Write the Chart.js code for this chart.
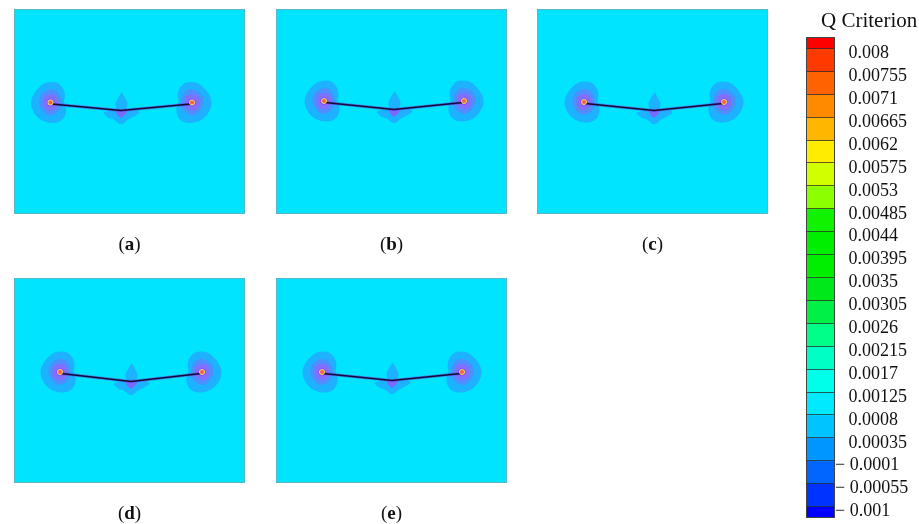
<!DOCTYPE html>
<html>
<head>
<meta charset="utf-8">
<script src="https://cdn.jsdelivr.net/npm/chart.js@4/dist/chart.umd.min.js"></script>
<style>
  body { margin: 0; background: #fff; width: 919px; height: 524px; overflow: hidden; position: relative; }
  canvas { position: absolute; }
</style>
</head>
<body>
<canvas id="p0" width="231" height="250" style="left:14px;top:9px"></canvas>
<canvas id="p1" width="231" height="250" style="left:276px;top:9px"></canvas>
<canvas id="p2" width="231" height="250" style="left:537px;top:9px"></canvas>
<canvas id="p3" width="231" height="250" style="left:14px;top:278px"></canvas>
<canvas id="p4" width="231" height="250" style="left:276px;top:278px"></canvas>
<canvas id="legend" width="114" height="540" style="left:805px;top:0px"></canvas>
<script>
const panelLabels = ['a', 'b', 'c', 'd', 'e'];
const tipLeftX = [36.5, 48, 47, 46, 46];
const tipRightX = [178, 188, 187, 188, 186];
const tipY = [93.5, 92, 93, 94, 94];
const rootX = [107, 118, 117, 117, 116];
const rootY = [101, 100, 101, 103, 102];

// contour outlines, offsets from the tip vortex (left side) or the wing root
const tipOuter = [[1, -20], [7, -19], [12, -14], [14, -7], [13, -1], [15, 6], [14, 13], [10, 18], [2, 20], [-7, 18], [-13, 14], [-17, 8], [-19, 1], [-17, -7], [-11, -15], [-5, -19]];
const tipMid = [[1, -13], [7, -10], [10, -2], [9, 6], [4, 11], [-3, 12], [-9, 6], [-11, -1], [-8, -9]];
const tipInner = [[0, -8], [5, -6], [7, 0], [5, 5], [0, 8], [-5, 6], [-7, 0], [-5, -6]];
const tipCore = [[0, -3.5], [3, -2], [3, 2], [0, 3.5], [-3, 2], [-3, -2]];
const rootUpper = [[0.7, -17], [4, -11], [6, -6], [4, -1], [-3, -1], [-5, -6], [-3, -11]];
const rootLower = [[-17, 3], [-7, 0], [7, 0], [18, 2], [13, 6], [7, 9], [2, 13], [-2, 13], [-7, 9], [-13, 7]];
const rootInner = [[-5, 1], [5, 1], [3, 5], [0, 7], [-3, 5]];

const levels = [0.008, 0.00755, 0.0071, 0.00665, 0.0062, 0.00575, 0.0053, 0.00485, 0.0044, 0.00395, 0.0035, 0.00305, 0.0026, 0.00215, 0.0017, 0.00125, 0.0008, 0.00035, -0.0001, -0.00055, -0.001];
const levelColors = ['#ff0000', '#ff3a00', '#ff6200', '#ff8a00', '#ffb600', '#ffec00', '#d2ff00', '#8cff00', '#10f200', '#00ee00', '#00ee00', '#00e81a', '#00f048', '#00ff88', '#00ffc4', '#00ffea', '#00eaff', '#00c4ff', '#0096ff', '#0066ff', '#0033ff', '#0000ff'];
const legendTitle = 'Q Criterion';

function shape(pts, cx, cy, flip) {
  const s = pts.map(p => ({ x: cx + p[0] * flip, y: cy + p[1] }));
  s.push(s[0]);
  return s;
}

function region(data, color, order) {
  return { data, order, showLine: true, fill: 'shape', backgroundColor: color, borderColor: color, borderWidth: 1, pointRadius: 0, tension: 0.4 };
}

const panelBg = {
  id: 'panelBg',
  beforeDraw(chart) {
    const { ctx, chartArea: a } = chart;
    ctx.save();
    ctx.fillStyle = '#00e4ff';
    ctx.fillRect(a.left, a.top, a.right - a.left, a.bottom - a.top);
    ctx.restore();
  },
  afterDraw(chart) {
    const { ctx, chartArea: a } = chart;
    ctx.save();
    ctx.strokeStyle = 'rgba(110,170,185,0.8)';
    ctx.lineWidth = 1;
    ctx.strokeRect(a.left + 0.5, a.top + 0.5, a.right - a.left - 1, a.bottom - a.top - 1);
    const letter = panelLabels[chart.options.plugins.panelBg.index];
    const normal = '19px "Liberation Serif"', bold = 'bold 19px "Liberation Serif"';
    ctx.font = normal;
    const wp = ctx.measureText('(').width, wc = ctx.measureText(')').width;
    ctx.font = bold;
    const wl = ctx.measureText(letter).width;
    let x = (a.left + a.right) / 2 - (wp + wl + wc) / 2;
    const y = a.bottom + 36;
    ctx.fillStyle = '#111';
    ctx.textBaseline = 'alphabetic';
    ctx.font = normal; ctx.fillText('(', x, y); x += wp;
    ctx.font = bold; ctx.fillText(letter, x, y); x += wl;
    ctx.font = normal; ctx.fillText(')', x, y);
    ctx.restore();
  }
};

function panelChart(i) {
  const lx = tipLeftX[i], rx = tipRightX[i], ty = tipY[i], cx = rootX[i], cy = rootY[i];
  const wing = [{ x: lx + 1, y: ty + 1.5 }, { x: cx, y: cy + 0.5 }, { x: rx - 1, y: ty + 1.5 }];
  const datasets = [
    region(shape(tipOuter, lx, ty, 1), '#1cb2ff', 8),
    region(shape(tipOuter, rx, ty, -1), '#1cb2ff', 8),
    region(shape(rootUpper, cx, cy, 1), '#1cb2ff', 8),
    region(shape(rootLower, cx, cy, 1), '#1cb2ff', 8),
    region(shape(tipMid, lx, ty, 1), '#4e8fff', 7),
    region(shape(tipMid, rx, ty, -1), '#4e8fff', 7),
    region(shape(tipInner, lx, ty, 1), '#8070ff', 6),
    region(shape(tipInner, rx, ty, -1), '#8070ff', 6),
    region(shape(rootInner, cx, cy, 1), '#7a68ff', 6),
    region(shape(tipCore, lx, ty, 1), '#9a4cff', 5),
    region(shape(tipCore, rx, ty, -1), '#9a4cff', 5),
    { data: wing, order: 3, showLine: true, borderColor: 'rgba(100,70,220,0.6)', borderWidth: 3, pointRadius: 0 },
    { data: wing, order: 2, showLine: true, borderColor: '#150838', borderWidth: 1.6, pointRadius: 0 },
    { data: [{ x: lx, y: ty }, { x: rx, y: ty }], order: 1, showLine: false, pointRadius: 2.5, backgroundColor: '#ff5a46', borderColor: '#d8e860', borderWidth: 1 }
  ];
  new Chart(document.getElementById('p' + i), {
    type: 'scatter',
    data: { datasets },
    options: {
      responsive: false,
      animation: false,
      layout: { autoPadding: false, padding: { left: 0, right: 0, top: 0, bottom: 45 } },
      scales: {
        x: { type: 'linear', min: 0, max: 231, display: false },
        y: { type: 'linear', min: 0, max: 205, reverse: true, display: false }
      },
      plugins: { legend: { display: false }, tooltip: { enabled: false }, panelBg: { index: i } }
    },
    plugins: [panelBg]
  });
}

panelLabels.forEach((l, i) => panelChart(i));

const halfStep = (levels[0] - levels[1]) / 2;
const bins = levelColors.map((c, i) => {
  if (i === 0) return [levels[0], levels[0] + halfStep];
  if (i === levels.length) return [levels[i - 1] - halfStep, levels[i - 1]];
  return [levels[i], levels[i - 1]];
});

function levelText(v) {
  return v < 0 ? '\u2212 ' + String(-v) : '   ' + String(v);
}

const legendFrame = {
  id: 'legendFrame',
  afterDraw(chart) {
    const { ctx, chartArea: a } = chart;
    ctx.save();
    ctx.strokeStyle = '#444';
    ctx.lineWidth = 1;
    ctx.strokeRect(a.left + 0.5, a.top + 0.5, a.right - a.left - 1, a.bottom - a.top - 1);
    ctx.font = '21px "Liberation Serif"';
    ctx.fillStyle = '#111';
    ctx.textBaseline = 'alphabetic';
    ctx.fillText(legendTitle, 16, 26.5);
    ctx.restore();
  }
};

new Chart(document.getElementById('legend'), {
  type: 'bar',
  data: {
    labels: [''],
    datasets: bins.map((b, i) => ({
      data: [b],
      backgroundColor: levelColors[i],
      borderWidth: 0,
      grouped: false,
      barPercentage: 1,
      categoryPercentage: 1
    }))
  },
  options: {
    responsive: false,
    animation: false,
    layout: { padding: { left: 1, right: 0, top: 37, bottom: 22 } },
    scales: {
      x: { display: false },
      y: {
        position: 'right',
        min: levels[levels.length - 1] - halfStep,
        max: levels[0] + halfStep,
        afterBuildTicks(scale) { scale.ticks = levels.map(v => ({ value: v })); },
        afterFit(scale) { scale.width = 84; },
        grid: { color: 'rgba(40,40,40,0.75)', lineWidth: 1, drawTicks: false, z: 1 },
        border: { display: false },
        ticks: {
          autoSkip: false,
          padding: 0,
          labelOffset: 5,
          color: '#111',
          font: { family: 'Liberation Serif', size: 18 },
          callback: v => levelText(v)
        }
      }
    },
    plugins: { legend: { display: false }, tooltip: { enabled: false } }
  },
  plugins: [legendFrame]
});
</script>
</body>
</html>
